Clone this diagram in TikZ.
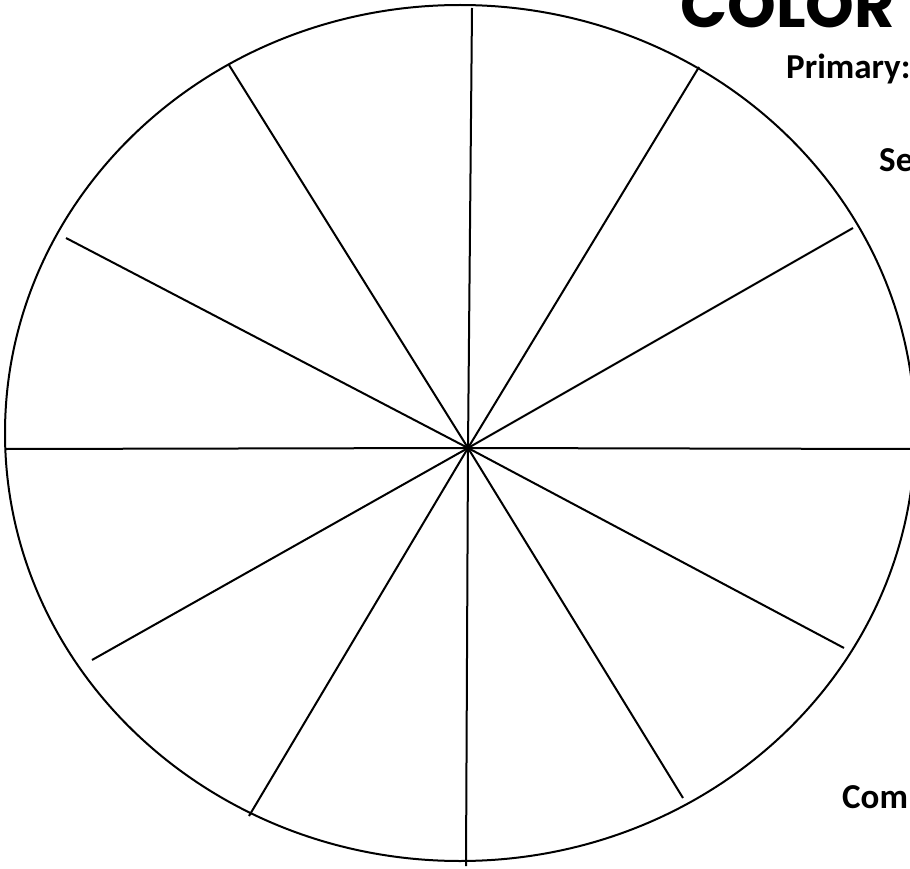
\documentclass[tikz,border=0pt]{standalone}
\usepackage{fontspec}
\setmainfont{Carlito}
\newfontfamily\titlefont{Poppins}
\usetikzlibrary{positioning,calc}
\definecolor{Ink}{HTML}{000000}

\begin{document}
\begin{tikzpicture}[x=1pt,y=-1pt,
  rim/.style={draw=Ink,line width=2pt},
  spoke/.style={draw=Ink,line width=2pt},
  label/.style={anchor=base west,inner sep=0pt,font=\bfseries\fontsize{35}{40}\selectfont,text=Ink}]
\useasboundingbox (0,0) rectangle (910,869);
\clip (0,0) rectangle (910,869);
% wheel outline
\draw[rim] (460,433) ellipse [x radius=455,y radius=428];
% hub and spoke ends
\coordinate (hub) at (468,448);
\coordinate (s0) at (914,449);
\coordinate (s30) at (853,228);
\coordinate (s60) at (699,67);
\coordinate (s90) at (472,8);
\coordinate (s120) at (229,65);
\coordinate (s150) at (66,238);
\coordinate (s180) at (6,449);
\coordinate (s210) at (92,660);
\coordinate (s240) at (249,816);
\coordinate (s270) at (466,866);
\coordinate (s300) at (683,798);
\coordinate (s330) at (844,648);
\foreach \a in {0,30,...,330}
  \draw[spoke] (hub) -- (s\a);
% headings at the right
\node[anchor=base west,inner sep=0pt,font=\titlefont\bfseries\fontsize{62}{68}\selectfont,text=Ink] (title) at (680,28) {COLOR};
\node[label] (primary) at (786,79) {Primary:};
\node[label] (second) at (879,172) {Se};
\node[label] (compl) at (842,808) {Com};
\end{tikzpicture}
\end{document}
